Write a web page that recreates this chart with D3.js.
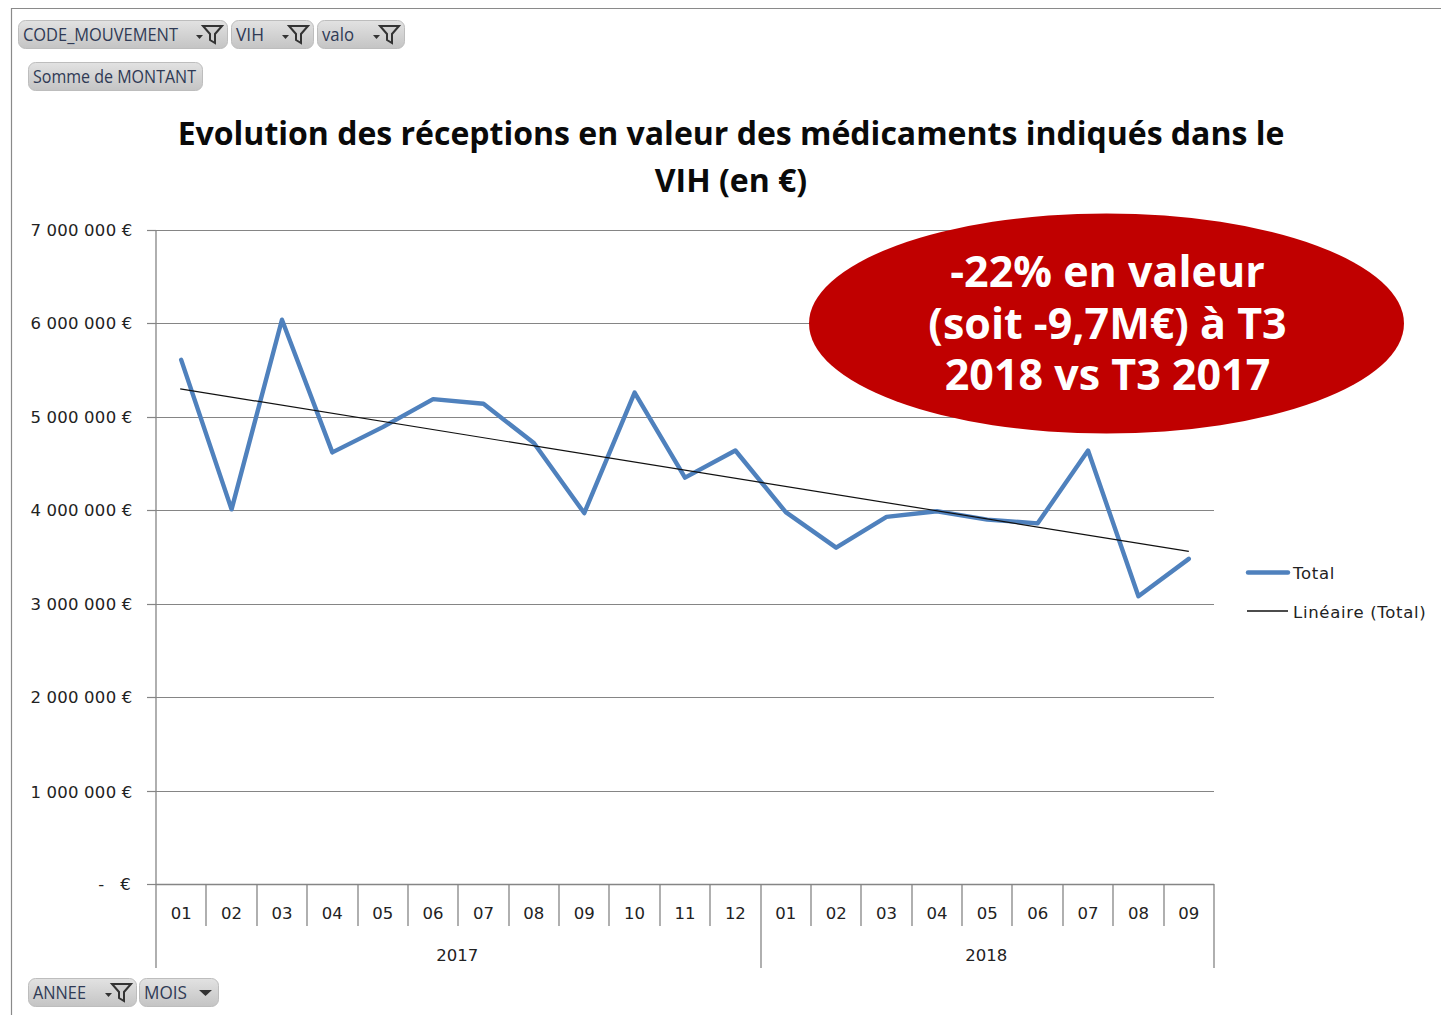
<!DOCTYPE html>
<html><head><meta charset="utf-8">
<script src="https://cdnjs.cloudflare.com/ajax/libs/d3/7.8.5/d3.min.js"></script>
<style>html,body{margin:0;padding:0;background:#fff;overflow:hidden}svg{display:block}text{font-family:"Open Sans",sans-serif}.ax{font-family:"DejaVu Sans",sans-serif}</style>
</head><body><svg id="c" width="1441" height="1015"></svg>
<script>
const months=["01","02","03","04","05","06","07","08","09","10","11","12","01","02","03","04","05","06","07","08","09"];
const years=[{label:"2017",count:12},{label:"2018",count:9}];
const totals=[5610000,4010000,6040000,4620000,4890000,5190000,5140000,4720000,3970000,5260000,4350000,4640000,3980000,3600000,3930000,3990000,3900000,3860000,4640000,3080000,3480000];
const trendEnds=[5300000,3560000];
const yTicks=[0,1000000,2000000,3000000,4000000,5000000,6000000,7000000];
const yLabels=["-   €","1 000 000 €","2 000 000 €","3 000 000 €","4 000 000 €","5 000 000 €","6 000 000 €","7 000 000 €"];
const title=["Evolution des réceptions en valeur des médicaments indiqués dans le","VIH (en €)"];
const callout=["-22% en valeur","(soit -9,7M€) à T3","2018 vs T3 2017"];
const topButtons=[{t:"CODE_MOUVEMENT",x:18,w:210,y:20,f:1,l:155},{t:"VIH",x:231,w:83,y:20,f:1,l:28},{t:"valo",x:317,w:88,y:20,f:1,l:32},{t:"Somme de MONTANT",x:28,w:175,y:62,f:0,l:163},{t:"ANNEE",x:28,w:109,y:978,f:1,l:53},{t:"MOIS",x:139,w:80,y:978,f:2,l:43}];

const svg=d3.select("#c");
const grey="#858585";
svg.append("path").attr("d","M1441,8.5H11.5V1015").attr("fill","none").attr("stroke","#8a8a8a").attr("stroke-width",1.2);

const x=d3.scaleBand().domain(d3.range(months.length)).range([156,1214]);
const y=d3.scaleLinear().domain([0,7000000]).range([884,230]);

svg.append("g").selectAll("line").data(yTicks.slice(1)).join("line")
 .attr("x1",156).attr("x2",1214).attr("y1",d=>Math.round(y(d))+.5).attr("y2",d=>Math.round(y(d))+.5)
 .attr("stroke",grey).attr("stroke-width",1.2);
const yAxis=svg.append("g");
yAxis.append("line").attr("x1",156).attr("x2",156).attr("y1",230).attr("y2",968).attr("stroke",grey).attr("stroke-width",1.3);
yAxis.selectAll("line.t").data(yTicks).join("line").attr("class","t")
 .attr("x1",147).attr("x2",156).attr("y1",d=>Math.round(y(d))+.5).attr("y2",d=>Math.round(y(d))+.5).attr("stroke",grey).attr("stroke-width",1.2);
yAxis.selectAll("text").data(yTicks).join("text").attr("class","ax")
 .attr("x",(d,i)=>i===0?131:132.5).attr("y",(d,i)=>y(d)+(i===1?1:0)).attr("dy","0.36em").attr("text-anchor","end")
 .attr("font-size",16.5).attr("letter-spacing",.3).attr("word-spacing",-.3).attr("fill","#222").style("white-space","pre").text((d,i)=>yLabels[i]);
const xa=svg.append("g");
xa.append("line").attr("x1",156).attr("x2",1214).attr("y1",884.5).attr("y2",884.5).attr("stroke",grey).attr("stroke-width",1.3);
xa.selectAll("line.m").data(d3.range(1,months.length+1)).join("line").attr("class","m")
 .attr("x1",d=>Math.round(d<months.length?x(d):1214)).attr("x2",d=>Math.round(d<months.length?x(d):1214))
 .attr("y1",884).attr("y2",d=>(d===12||d===21)?968:926).attr("stroke",grey).attr("stroke-width",1.3);
xa.selectAll("text.m").data(months).join("text").attr("class","m ax")
 .attr("x",(d,i)=>x(i)+x.bandwidth()/2).attr("y",919).attr("text-anchor","middle")
 .attr("font-size",16.5).attr("fill","#222").text(d=>d);
let start=0;
years.forEach(g=>{
 const x0=x(start), x1=x(start+g.count-1)+x.bandwidth();
 xa.append("text").attr("class","ax").attr("x",(x0+x1)/2-1).attr("y",961).attr("text-anchor","middle").attr("font-size",16.5).attr("fill","#222").text(g.label);
 start+=g.count;
});
const line=d3.line().x((d,i)=>x(i)+x.bandwidth()/2).y(d=>y(d));
svg.append("path").attr("d",line(totals)).attr("fill","none").attr("stroke","#4f81bd").attr("stroke-width",4.4).attr("stroke-linejoin","round").attr("stroke-linecap","round");
svg.append("line").attr("x1",x(0)+x.bandwidth()/2-1).attr("x2",x(months.length-1)+x.bandwidth()/2)
 .attr("y1",y(trendEnds[0])).attr("y2",y(trendEnds[1])).attr("stroke","#111").attr("stroke-width",1.2);
svg.append("line").attr("x1",1248).attr("x2",1288).attr("y1",572.5).attr("y2",572.5).attr("stroke","#4f81bd").attr("stroke-width",4.4).attr("stroke-linecap","round");
svg.append("text").attr("class","ax").attr("x",1293).attr("y",579).attr("font-size",16.5).attr("letter-spacing",.7).attr("fill","#222").text("Total");
svg.append("line").attr("x1",1247).attr("x2",1288).attr("y1",611).attr("y2",611).attr("stroke","#111").attr("stroke-width",1.3);
svg.append("text").attr("class","ax").attr("x",1293).attr("y",618).attr("font-size",16.5).attr("letter-spacing",.7).attr("fill","#222").text("Linéaire (Total)");
svg.selectAll("text.ti").data(title).join("text").attr("class","ti")
 .attr("x",731).attr("y",(d,i)=>145+i*47).attr("text-anchor","middle").attr("font-size",32).attr("font-weight",700).attr("fill","#0a0a0a").text(d=>d);
svg.append("ellipse").attr("cx",1106.5).attr("cy",323.5).attr("rx",297.5).attr("ry",110).attr("fill","#c00000");
svg.selectAll("text.co").data(callout).join("text").attr("class","co")
 .attr("x",1107.5).attr("y",(d,i)=>287+i*51.5).attr("text-anchor","middle").attr("font-size",43).attr("font-weight",700).attr("fill","#fff").text(d=>d);
const defs=svg.append("defs");
const lg=defs.append("linearGradient").attr("id","btn").attr("x1",0).attr("x2",0).attr("y1",0).attr("y2",1);
lg.append("stop").attr("offset",0).attr("stop-color","#e2e2e2");lg.append("stop").attr("offset",1).attr("stop-color","#c4c4c4");
topButtons.forEach(b=>{
 const g=svg.append("g").attr("transform",`translate(${b.x},${b.y})`);
 g.append("rect").attr("x",.5).attr("y",.5).attr("width",b.w-1).attr("height",28).attr("rx",7).attr("fill","url(#btn)").attr("stroke","#bdbdbd");
 g.append("text").attr("x",5).attr("y",20.5).attr("font-size",18).attr("textLength",b.l).attr("lengthAdjust","spacingAndGlyphs").attr("fill","#2f3a55").text(b.t);
 if(b.f===1){
  g.append("path").attr("d",`M${b.w-32},15h7l-3.5,4z`).attr("fill","#333");
  g.append("path").attr("d",`M${b.w-25},6h19l-7,8v9l-5,-3v-6z`).attr("fill","#cfcfcf").attr("stroke","#333").attr("stroke-width",2);
 } else if(b.f===2){
  g.append("path").attr("d",`M${b.w-20},12h13l-6.5,6z`).attr("fill","#333");
 }
});
</script></body></html>
